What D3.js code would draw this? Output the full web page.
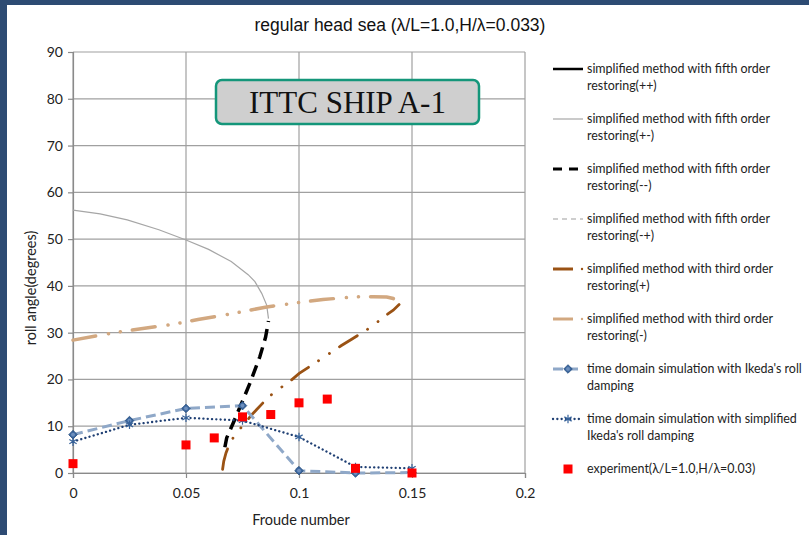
<!DOCTYPE html>
<html><head><meta charset="utf-8">
<script src="https://cdn.jsdelivr.net/npm/d3@7/dist/d3.min.js"></script>
<style>body{margin:0;background:#fff}svg{display:block}</style>
</head><body>
<svg id="chart" width="809" height="535"></svg>
<script>
// ---------- data ----------
const title = "regular head sea (λ/L=1.0,H/λ=0.033)";
const xTickValues = [0, 0.05, 0.1, 0.15, 0.2];
const yTickValues = [0, 10, 20, 30, 40, 50, 60, 70, 80, 90];
const xLabel = "Froude number";
const yLabel = "roll angle(degrees)";
const boxLabel = "ITTC SHIP A-1";

// simplified method, fifth order restoring
const fifthPP = [];  // (++) not visible in the chart
const fifthPM = [[0,56.2],[0.012,55.4],[0.024,54.1],[0.038,52.0],[0.05,49.8],[0.06,47.8],[0.07,45.2],[0.0775,42.4],[0.0805,40.9],[0.0835,38.4],[0.0857,35.9],[0.0865,33.0]];
const fifthMM = [[0.0672,5.5],[0.068,7.5],[0.0709,10.7],[0.0746,14.9],[0.0783,19.2],[0.0827,24.9],[0.0852,29.0],[0.0865,32.5]];
const fifthMP = [];  // (-+) not visible in the chart
// simplified method, third order restoring
const thirdP = [[0.0662,0.8],[0.0667,2.5],[0.0677,4.3],[0.0692,6.2],[0.0717,8.2],[0.0754,10.3],[0.079,12.4],[0.0864,16.2],[0.0909,17.9],[0.0957,19.5],[0.1001,21.3],[0.1093,24.2],[0.1186,27.2],[0.1233,28.6],[0.1326,31.4],[0.137,33.2],[0.1417,34.8],[0.1443,36.0]];
const thirdM = [[0,28.4],[0.0208,30.2],[0.0444,31.8],[0.0553,32.8],[0.0708,34.1],[0.0857,35.5],[0.099,36.4],[0.1106,37.1],[0.1211,37.5],[0.127,37.7],[0.1329,37.7],[0.1388,37.6],[0.1417,37.3],[0.1433,36.9],[0.1441,36.4]];
// time domain simulations
const simFroude = [0, 0.025, 0.05, 0.075, 0.1, 0.125, 0.15];
const ikedaRoll = [8.2, 11.2, 13.8, 14.4, 0.5, 0.0, 0.1];
const simpIkedaRoll = [6.7, 10.3, 11.8, 11.2, 7.7, 1.3, 1.0];
// experiment
const expFroude = [0, 0.05, 0.0625, 0.075, 0.0875, 0.1, 0.1125, 0.125, 0.15];
const expRoll = [2.0, 6.0, 7.5, 12.0, 12.5, 15.0, 15.8, 1.0, 0.0];

const legendLabels = [
  ["simplified method with fifth order", "restoring(++)"],
  ["simplified method with fifth order", "restoring(+-)"],
  ["simplified method with fifth order", "restoring(--)"],
  ["simplified method with fifth order", "restoring(-+)"],
  ["simplified method with third order", "restoring(+)"],
  ["simplified method with third order", "restoring(-)"],
  ["time domain simulation with Ikeda's roll", "damping"],
  ["time domain simulation with simplified", "Ikeda's roll damping"],
  ["experiment(λ/L=1.0,H/λ=0.03)"]
];

// ---------- styles ----------
const C = {
  brown: "#9a5214", tan: "#d2a880", steel: "#8fa8c8", marker: "#36629a",
  navy: "#1f3f73", red: "#ff0000", grid: "#a0a0a0", frame: "#2d4b73"
};
const uiFont = "Lato, 'Open Sans', sans-serif";

const svg = d3.select("#chart");
svg.append("rect").attr("width", 809).attr("height", 535).attr("fill", "#fff");
svg.append("rect").attr("x", 0).attr("y", 0).attr("width", 809).attr("height", 5).attr("fill", C.frame);
svg.append("rect").attr("x", 0).attr("y", 0).attr("width", 7).attr("height", 535).attr("fill", C.frame);

const x = d3.scaleLinear().domain([0, 0.2]).range([73, 525]);
const y = d3.scaleLinear().domain([0, 90]).range([473, 52]);

// gridlines
const g = svg.append("g");
g.selectAll("line.h").data(yTickValues).join("line")
  .attr("x1", x(0)).attr("x2", x(0.2)).attr("y1", d => y(d)).attr("y2", d => y(d))
  .attr("stroke", C.grid).attr("stroke-width", 1.2);
g.selectAll("line.v").data(xTickValues).join("line")
  .attr("y1", y(0)).attr("y2", y(90)).attr("x1", d => x(d)).attr("x2", d => x(d))
  .attr("stroke", C.grid).attr("stroke-width", 1.2);

// axes
const yAxis = svg.append("g").attr("transform", `translate(${x(0)},0)`)
  .call(d3.axisLeft(y).tickValues(yTickValues).tickSize(5).tickPadding(5).tickFormat(d3.format("d")));
const xAxis = svg.append("g").attr("transform", `translate(0,${y(0)})`)
  .call(d3.axisBottom(x).tickValues(xTickValues).tickSize(5).tickPadding(10).tickFormat(d => String(d)));
[yAxis, xAxis].forEach(a => {
  a.select(".domain").attr("stroke", "#8a8a8a").attr("stroke-width", 1.2);
  a.selectAll(".tick line").attr("stroke", "#8a8a8a").attr("stroke-width", 1.2);
  a.selectAll("text").attr("font-family", uiFont).attr("font-size", 14).attr("fill", "#222");
});

// title & axis labels
svg.append("text").attr("x", 400).attr("y", 31).attr("text-anchor", "middle")
  .attr("font-family", "'Liberation Sans', Arial, sans-serif").attr("font-size", 17.5).attr("fill", "#111")
  .text(title);
svg.append("text").attr("x", 301).attr("y", 525).attr("text-anchor", "middle")
  .attr("font-family", uiFont).attr("font-size", 14.5).attr("fill", "#222").text(xLabel);
svg.append("text").attr("transform", "translate(36,288) rotate(-90)").attr("text-anchor", "middle")
  .attr("font-family", uiFont).attr("font-size", 14.5).attr("fill", "#222").text(yLabel);

// lines
const line = d3.line().x(d => x(d[0])).y(d => y(d[1]));
const plot = svg.append("g");
plot.append("path").datum(fifthPP).attr("d", fifthPP.length ? line : null).attr("fill", "none").attr("stroke", "#000").attr("stroke-width", 2.5);
plot.append("path").datum(fifthPM).attr("d", line).attr("fill", "none").attr("stroke", "#a6a6a6").attr("stroke-width", 1.2);
plot.append("path").datum(thirdM).attr("d", line).attr("fill", "none").attr("stroke", C.tan).attr("stroke-width", 3.5)
  .attr("stroke-linecap", "round").attr("stroke-dasharray", "23,13,0.1,12,0.1,12");
plot.append("path").datum(fifthMM).attr("d", line).attr("fill", "none").attr("stroke", "#000").attr("stroke-width", 3.5)
  .attr("stroke-dasharray", "12,7");
plot.append("path").datum(fifthMP).attr("d", fifthMP.length ? line : null).attr("fill", "none").attr("stroke", "#bfbfbf").attr("stroke-width", 1.5).attr("stroke-dasharray", "5,4");
plot.append("path").datum(thirdP).attr("d", line).attr("fill", "none").attr("stroke", C.brown).attr("stroke-width", 2.8)
  .attr("stroke-linecap", "round").attr("stroke-dasharray", "21,12,0.1,13,0.1,12");

const ikeda = simFroude.map((f, i) => [f, ikedaRoll[i]]);
const simp = simFroude.map((f, i) => [f, simpIkedaRoll[i]]);
plot.append("path").datum(ikeda).attr("d", line).attr("fill", "none").attr("stroke", C.steel).attr("stroke-width", 3)
  .attr("stroke-dasharray", "10,5");
plot.append("path").datum(simp).attr("d", line).attr("fill", "none").attr("stroke", C.navy).attr("stroke-width", 2.3)
  .attr("stroke-linecap", "round").attr("stroke-dasharray", "0.1,4.2");

function ikedaMarker(sel, cx, cy) {
  const r = 4.3;
  sel.append("path").attr("d", `M${cx},${cy - r}L${cx + r},${cy}L${cx},${cy + r}L${cx - r},${cy}Z`)
    .attr("fill", C.marker).attr("stroke", "#2a5080").attr("stroke-width", 0.8);
  sel.append("circle").attr("cx", cx).attr("cy", cy).attr("r", 2.4).attr("fill", "#6d8fbd").attr("stroke", C.marker).attr("stroke-width", 0.8);
}
function simpMarker(sel, cx, cy) {
  sel.append("path").attr("transform", `translate(${cx},${cy})`).attr("d", d3.symbol(d3.symbolAsterisk, 50)())
    .attr("fill", "none").attr("stroke", C.marker).attr("stroke-width", 1.2);
}
ikeda.forEach(d => ikedaMarker(plot, x(d[0]), y(d[1])));
simp.forEach(d => simpMarker(plot, x(d[0]), y(d[1])));

plot.selectAll("rect.exp").data(expFroude.map((f, i) => [f, expRoll[i]])).join("rect")
  .attr("x", d => x(d[0]) - 4.5).attr("y", d => y(d[1]) - 4.5).attr("width", 9).attr("height", 9).attr("fill", C.red);

// ITTC label box
svg.append("rect").attr("x", 216).attr("y", 80).attr("width", 263).attr("height", 44).attr("rx", 6)
  .attr("fill", "#cfcfcf").attr("stroke", "#14967a").attr("stroke-width", 2.5);
svg.append("text").attr("x", 347.5).attr("y", 113).attr("text-anchor", "middle")
  .attr("font-family", "'Liberation Serif', 'Times New Roman', serif").attr("font-size", 31).attr("fill", "#111")
  .text(boxLabel);

// legend
const leg = svg.append("g");
const probe = leg.append("text").attr("font-family", uiFont).attr("font-size", 12).text(legendLabels[0][0]);
const lfs = 12 * 183 / probe.node().getComputedTextLength();
probe.remove();
const lx0 = 553, lx1 = 583, tx = 587;
legendLabels.forEach((lines, i) => {
  const cy = 69 + 50 * i;
  lines.forEach((t, j) => {
    leg.append("text").attr("x", tx).attr("y", cy + 17 * j + 4.2).attr("font-family", uiFont)
      .attr("font-size", lfs).attr("fill", "#222").text(t);
  });
  const s = leg.append("g");
  if (i === 0) s.append("line").attr("x1", lx0).attr("x2", lx1).attr("y1", cy).attr("y2", cy).attr("stroke", "#000").attr("stroke-width", 2.5);
  if (i === 1) s.append("line").attr("x1", lx0).attr("x2", lx1).attr("y1", cy).attr("y2", cy).attr("stroke", "#a6a6a6").attr("stroke-width", 1.2);
  if (i === 2) s.append("line").attr("x1", lx0).attr("x2", lx1).attr("y1", cy).attr("y2", cy).attr("stroke", "#000").attr("stroke-width", 3).attr("stroke-dasharray", "9,7");
  if (i === 3) s.append("line").attr("x1", lx0).attr("x2", lx1).attr("y1", cy).attr("y2", cy).attr("stroke", "#bfbfbf").attr("stroke-width", 1.5).attr("stroke-dasharray", "5,4");
  if (i === 4 || i === 5) {
    const col = i === 4 ? C.brown : C.tan;
    s.append("line").attr("x1", lx0).attr("x2", 573).attr("y1", cy).attr("y2", cy).attr("stroke", col).attr("stroke-width", 3);
    s.append("circle").attr("cx", 582).attr("cy", cy).attr("r", 1.2).attr("fill", col);
  }
  if (i === 6) {
    s.append("line").attr("x1", lx0).attr("x2", lx1).attr("y1", cy).attr("y2", cy).attr("stroke", C.steel).attr("stroke-width", 3).attr("stroke-dasharray", "10,5");
    ikedaMarker(s, 568, cy);
  }
  if (i === 7) {
    s.append("line").attr("x1", lx0).attr("x2", lx1).attr("y1", cy).attr("y2", cy).attr("stroke", C.navy).attr("stroke-width", 2.3).attr("stroke-linecap", "round").attr("stroke-dasharray", "0.1,4.2");
    simpMarker(s, 568, cy);
  }
  if (i === 8) s.append("rect").attr("x", 563.5).attr("y", cy - 4.5).attr("width", 9).attr("height", 9).attr("fill", C.red);
});
</script>
</body></html>
